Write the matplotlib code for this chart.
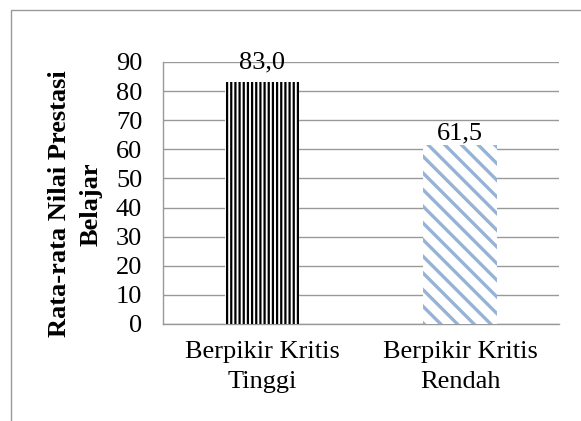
import matplotlib
matplotlib.use("Agg")
import matplotlib.pyplot as plt
from matplotlib.patches import Rectangle

categories = ["Berpikir Kritis\nTinggi", "Berpikir Kritis\nRendah"]
values = [83.0, 61.5]
value_labels = ["83,0", "61,5"]
yticks = [0, 10, 20, 30, 40, 50, 60, 70, 80, 90]

plt.rcParams['font.family'] = ['Liberation Serif', 'DejaVu Serif']
FS = 19

fig = plt.figure(figsize=(5.81, 4.21), dpi=100)
ax = fig.add_axes([163/581, 1-324/421, (559-163)/581, (324-62)/421])

hatches = ['||||', '\\\\']
hcolors = ['black', '#95B3D7']
hlw = [1.6, 2.4]
x = list(range(len(categories)))
bars = ax.bar(x, values, width=0.375, color='white', zorder=3)
for b, h, c, lw in zip(bars, hatches, hcolors, hlw):
    b.set_hatch(h)
    b.set_edgecolor(c)
    b.set_linewidth(0)
    if hasattr(b, 'set_hatch_linewidth'):
        b.set_hatch_linewidth(lw)

offsets = [9, 1]
for b, lab, off in zip(bars, value_labels, offsets):
    ax.annotate(lab, (b.get_x() + b.get_width()/2, b.get_height()),
                xytext=(0, off*0.72), textcoords='offset points',
                ha='center', va='bottom', fontsize=FS, zorder=4)

ax.set_xlim(-0.5, 1.5)
ax.set_ylim(0, 90)
ax.set_yticks(yticks)
ax.set_xticks(x)
ax.set_xticklabels(categories, fontsize=FS, linespacing=1.5)
ax.tick_params(axis='y', length=0, pad=15, labelsize=FS)
ax.tick_params(axis='x', length=0, pad=12, labelsize=FS)
ax.yaxis.grid(True, color='#999999', linewidth=1.0, zorder=0)
ax.set_axisbelow(True)
for s in ['top', 'right']:
    ax.spines[s].set_visible(False)
for s in ['left', 'bottom']:
    ax.spines[s].set_color('#999999')
    ax.spines[s].set_linewidth(1.0)

fig.text(75/581, 1-204/421, "Rata-rata Nilai Prestasi\nBelajar", rotation=90,
         ha='center', va='center', fontsize=FS, fontweight='bold', linespacing=1.5)

fig.patches.append(Rectangle((11/581, -0.1), 1.2, 1.1 - 10/421 + 0.0,
                             transform=fig.transFigure, fill=False,
                             edgecolor='#999999', linewidth=1.0))

fig.savefig("out.png", dpi=100)
